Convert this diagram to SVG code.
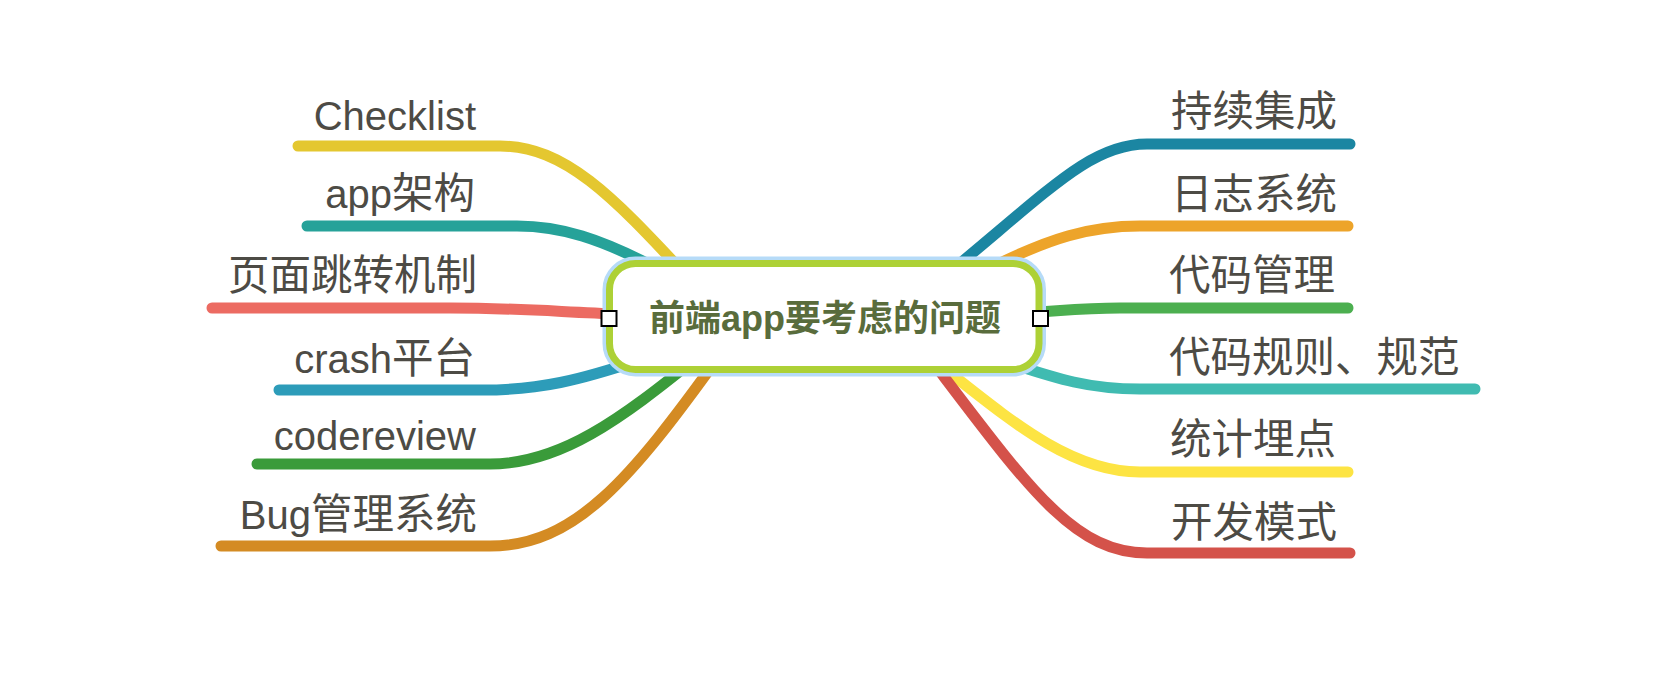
<svg xmlns="http://www.w3.org/2000/svg" width="1656" height="680" viewBox="0 0 1656 680">
<style>
.c{fill:none;stroke-width:11;stroke-linecap:round;stroke-linejoin:round}
.lbl{font-family:"Liberation Sans","Noto Sans CJK SC",sans-serif;font-size:40px;fill:#4d4b45}
.cj{font-size:41.5px}
.l{text-anchor:end}
.center{font-family:"Liberation Sans","Noto Sans CJK SC",sans-serif;font-size:36px;font-weight:bold;fill:#596c3c;text-anchor:middle}
.h{fill:#fff;stroke:#000;stroke-width:2}
</style>
<rect width="1656" height="680" fill="#fff"/>
<g id="connectors">
<path class="c" stroke="#e4c730" d="M298,146 H500 C570,146 620,205 700,290"/>
<path class="c" stroke="#26a299" d="M307,226 H517 C560,226 600,238 660,270"/>
<path class="c" stroke="#ec6b62" d="M212,308 H450 C520,308 560,312 620,314"/>
<path class="c" stroke="#2d9cb9" d="M279,390 H483 C540,390 580,380 640,360"/>
<path class="c" stroke="#3a9b3a" d="M257,464 H490 C560,464 620,420 700,355"/>
<path class="c" stroke="#d48b23" d="M221,546 H490 C575,546 630,480 720,355"/>
<path class="c" stroke="#1b86a2" d="M1350,144 H1147 C1090,144 1050,190 940,280"/>
<path class="c" stroke="#eda42a" d="M1348,226 H1140 C1090,226 1050,238 990,268"/>
<path class="c" stroke="#4caf50" d="M1348,308 H1120 C1080,308 1060,311 1020,313"/>
<path class="c" stroke="#40bbb1" d="M1475,389 H1140 C1090,389 1060,380 1000,360"/>
<path class="c" stroke="#fde443" d="M1348,472 H1140 C1070,472 1010,420 940,365"/>
<path class="c" stroke="#d4524a" d="M1350,553 H1147 C1075,553 1030,490 935,365"/>
</g>
<g id="center">
<rect x="609.5" y="263.5" width="429.5" height="106" rx="26" fill="#fff" stroke="#b6dbf8" stroke-width="14"/>
<rect x="609.5" y="263.5" width="429.5" height="106" rx="26" fill="#fff" stroke="#add136" stroke-width="7"/>
<text class="center" x="825" y="331">前端app要考虑的问题</text>
<rect class="h" x="601.5" y="311" width="15" height="15"/>
<rect class="h" x="1033" y="311" width="15" height="15"/>
</g>
<g id="n-checklist"><text class="lbl l" x="476" y="130">Checklist</text></g>
<g id="n-arch"><text class="lbl l" x="475" y="208">app<tspan class="cj">架构</tspan></text></g>
<g id="n-page"><text class="lbl cj l" x="477" y="290">页面跳转机制</text></g>
<g id="n-crash"><text class="lbl l" x="475" y="373">crash<tspan class="cj">平台</tspan></text></g>
<g id="n-codereview"><text class="lbl l" x="476" y="450">codereview</text></g>
<g id="n-bug"><text class="lbl l" x="477" y="529">Bug<tspan class="cj">管理系统</tspan></text></g>
<g id="n-ci"><text class="lbl cj" x="1171" y="126">持续集成</text></g>
<g id="n-log"><text class="lbl cj" x="1171" y="209">日志系统</text></g>
<g id="n-vcs"><text class="lbl cj" x="1169" y="290">代码管理</text></g>
<g id="n-rules"><text class="lbl cj" x="1169" y="372">代码规则、规范</text></g>
<g id="n-stats"><text class="lbl cj" x="1170" y="454">统计埋点</text></g>
<g id="n-dev"><text class="lbl cj" x="1171" y="537">开发模式</text></g>
</svg>
